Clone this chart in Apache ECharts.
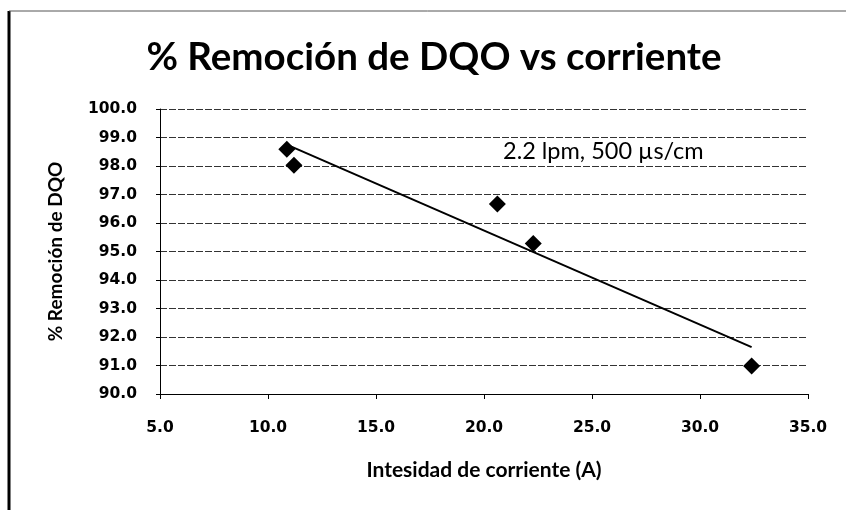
<!DOCTYPE html>
<html>
<head>
<meta charset="utf-8">
<script src="https://cdn.jsdelivr.net/npm/echarts@6/dist/echarts.min.js"></script>
<style>
html,body{margin:0;padding:0;background:#fff;}
#chart{width:846px;height:510px;}
</style>
</head>
<body>
<div id="chart"></div>
<script>
const titleText = '% Remoción de DQO vs corriente';
const xAxisName = 'Intesidad de corriente (A)';
const yAxisName = '% Remoción de DQO';
const annotation = '2.2 lpm, 500 µs/cm';
const corriente = [10.87, 11.2, 20.62, 22.28, 32.39];
const remocion = [98.59, 98.03, 96.67, 95.28, 90.98];

// linear trendline (least squares) from the data
const n = corriente.length;
const mx = corriente.reduce((a, b) => a + b, 0) / n;
const my = remocion.reduce((a, b) => a + b, 0) / n;
let sxy = 0, sxx = 0;
for (let i = 0; i < n; i++) { sxy += (corriente[i] - mx) * (remocion[i] - my); sxx += (corriente[i] - mx) ** 2; }
const slope = sxy / sxx, intercept = my - slope * mx;
const xMin = Math.min(...corriente), xMax = Math.max(...corriente);
const trend = [[xMin, intercept + slope * xMin], [xMax, intercept + slope * xMax]];

const font = 'Lato, "Open Sans", sans-serif';
const tickFont = '"DejaVu Sans", sans-serif';
const chart = echarts.init(document.getElementById('chart'));
chart.setOption({
  animation: false,
  backgroundColor: '#fff',
  title: {
    text: titleText, left: 429, top: 33, textAlign: 'center',
    textStyle: { fontFamily: font, fontSize: 38.5, fontWeight: 'bold', color: '#000' }
  },
  grid: { left: 160, right: 38, top: 109, bottom: 116 },
  xAxis: {
    type: 'value', min: 5, max: 35, interval: 5,
    name: xAxisName, nameLocation: 'middle', nameGap: 66,
    nameTextStyle: { fontFamily: font, fontSize: 21, fontWeight: 'bold', color: '#000' },
    axisLine: { lineStyle: { color: '#000', width: 1 } },
    axisTick: { show: true, length: 5, lineStyle: { color: '#000' } },
    axisLabel: { fontFamily: tickFont, fontSize: 15.5, fontWeight: 'bold', color: '#000', margin: 26, formatter: v => v.toFixed(1) },
    splitLine: { show: false }
  },
  yAxis: {
    type: 'value', min: 90, max: 100, interval: 1,
    name: yAxisName, nameLocation: 'middle', nameGap: 95, nameRotate: 90,
    nameTextStyle: { fontFamily: font, fontSize: 19, fontWeight: 'bold', color: '#000' },
    axisLine: { show: true, lineStyle: { color: '#000', width: 1 } },
    axisTick: { show: true, length: 4, lineStyle: { color: '#000' } },
    axisLabel: { fontFamily: tickFont, fontSize: 15.5, fontWeight: 'bold', color: '#000', margin: 23, formatter: v => v.toFixed(1) },
    splitLine: { show: true, lineStyle: { color: '#333', width: 1, type: [7, 2] } }
  },
  graphic: [
    { type: 'line', shape: { x1: 9, y1: 11, x2: 9, y2: 510 }, style: { stroke: '#000', lineWidth: 3 } },
    { type: 'line', shape: { x1: 9, y1: 11, x2: 846, y2: 11 }, style: { stroke: '#555', lineWidth: 1 } },
    { type: 'text', left: 503, top: 139, style: { text: annotation, fontFamily: font, fontSize: 23.5, fill: '#000' } }
  ],
  series: [
    {
      type: 'line', data: trend, symbol: 'none', z: 2,
      lineStyle: { color: '#000', width: 2 }
    },
    {
      type: 'scatter', data: corriente.map((x, i) => [x, remocion[i]]), z: 3,
      symbol: 'diamond', symbolSize: 17, itemStyle: { color: '#000', opacity: 1 }
    }
  ]
});
</script>
</body>
</html>
